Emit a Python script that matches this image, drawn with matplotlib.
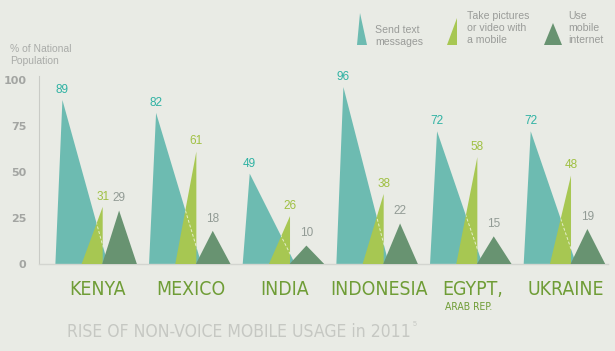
import matplotlib
matplotlib.use("Agg")
import matplotlib.pyplot as plt
import matplotlib.font_manager as fm
from matplotlib.patches import Polygon

countries = ["KENYA", "MEXICO", "INDIA", "INDONESIA", "EGYPT,", "UKRAINE"]
country_sub = ["", "", "", "", "ARAB REP.", ""]
send_text = [89, 82, 49, 96, 72, 72]
take_pictures = [31, 61, 26, 38, 58, 48]
mobile_internet = [29, 18, 10, 22, 15, 19]
yticks = [0, 25, 50, 75, 100]
series_names = ["Send text\nmessages", "Take pictures\nor video with\na mobile", "Use\nmobile\ninternet"]

BG = "#e9ebe5"
TEAL = "#6dbbb1"
LGREEN = "#a7c752"
DGREEN = "#689371"
TEAL_TXT = "#2fb2a3"
LG_TXT = "#9fc042"
DG_TXT = "#929b95"
GREY = "#a3a5a2"


def find_narrow():
    best = None
    for f in fm.fontManager.ttflist:
        st = str(f.stretch).lower()
        nm = f.name.lower()
        narrow = ("narrow" in nm or "condensed" in nm or "condensed" in st
                  or (st.isdigit() and int(st) < 500))
        if not narrow or f.style != "normal":
            continue
        w = f.weight if isinstance(f.weight, int) else {"normal": 400, "regular": 400}.get(str(f.weight), 700)
        score = abs(w - 400)
        if best is None or score < best[0]:
            best = (score, f.fname)
    if best:
        return fm.FontProperties(fname=best[1])
    return fm.FontProperties(family=["Liberation Sans", "DejaVu Sans"])


NARROW = find_narrow()
REG = fm.FontProperties(family=["Liberation Sans", "DejaVu Sans"])

W, H = 615, 351
fig = plt.figure(figsize=(W / 100, H / 100), dpi=100, facecolor=BG)
renderer = fig.canvas.get_renderer()


def fit_width(t, target):
    bb = t.get_window_extent(renderer)
    if bb.width > 0:
        t.set_fontsize(t.get_fontsize() * target / bb.width)


ax = fig.add_axes([39 / W, 87 / H, 569 / W, 188 / H], facecolor=BG)
ax.set_xlim(-0.855, 5.22)
ax.set_ylim(0, 102)

probe = fig.text(0, 0, "INDONESIA", fontproperties=NARROW.copy(), fontsize=13)
fit_width(probe, 97)
csize = min(probe.get_fontsize(), 14)
probe.remove()

for i in range(len(countries)):
    t, p, m = send_text[i], take_pictures[i], mobile_internet[i]
    teal = Polygon([(i - 0.68, 0), (i - 0.605, t), (i - 0.12, 0)], closed=True,
                   facecolor=TEAL, edgecolor="none", zorder=2)
    ax.add_patch(teal)
    green = Polygon([(i - 0.40, 0), (i - 0.175, p), (i - 0.175, 0)], closed=True,
                    facecolor=LGREEN, edgecolor="none", zorder=3)
    ax.add_patch(green)
    ln, = ax.plot([i - 0.605, i - 0.12], [t, 0], color="white", lw=0.7,
                  ls=(0, (3, 2)), alpha=0.7, zorder=4)
    ln.set_clip_path(green)
    dark = Polygon([(i - 0.18, 0), (i + 0.0, m), (i + 0.19, 0)], closed=True,
                   facecolor=DGREEN, edgecolor="none", zorder=5)
    ax.add_patch(dark)

    ax.annotate(str(t), (i - 0.605, t), xytext=(0, 3), textcoords="offset points",
                ha="center", va="bottom", color=TEAL_TXT, fontsize=8.5, fontproperties=REG)
    ax.annotate(str(p), (i - 0.175, p), xytext=(0, 3), textcoords="offset points",
                ha="center", va="bottom", color=LG_TXT, fontsize=8.5, fontproperties=REG)
    ax.annotate(str(m), (i + 0.0, m), xytext=(0, 4.5), textcoords="offset points",
                ha="center", va="bottom", color=DG_TXT, fontsize=8.5, fontproperties=REG)

    ax.annotate(countries[i], (i - 0.23, 0), xytext=(0, -18.5), textcoords="offset points",
                ha="center", va="center", color="#6f9d36", fontproperties=NARROW,
                fontsize=csize, annotation_clip=False)
    if country_sub[i]:
        ax.annotate(country_sub[i], (i - 0.27, 0), xytext=(0, -31), textcoords="offset points",
                    ha="center", va="center", color="#6f9d36", fontproperties=NARROW,
                    fontsize=7.5, annotation_clip=False)

ax.set_yticks(yticks)
ax.set_yticklabels([str(v) for v in yticks], color=GREY, fontsize=8, fontweight="bold")
ax.tick_params(axis="y", length=0, pad=9)
ax.set_xticks([])
for s in ["top", "right"]:
    ax.spines[s].set_visible(False)
ax.spines["left"].set_color("#c9cbc6")
ax.spines["bottom"].set_color("#d3d5d0")
ax.spines["left"].set_linewidth(0.8)
ax.spines["bottom"].set_linewidth(1.0)

ov = fig.add_axes([0, 0, 1, 1], facecolor="none")
ov.set_xlim(0, W)
ov.set_ylim(H, 0)
ov.axis("off")

ov.text(10, 55, "% of National\nPopulation", color="#aaaca9", fontsize=7.5,
        ha="left", va="center", linespacing=1.15, fontproperties=REG)

ov.add_patch(Polygon([(357, 45), (360, 13), (367, 45)], facecolor=TEAL, edgecolor="none"))
ov.add_patch(Polygon([(447, 45), (457, 18), (457, 45)], facecolor=LGREEN, edgecolor="none"))
ov.add_patch(Polygon([(544, 45), (553, 23), (562, 45)], facecolor=DGREEN, edgecolor="none"))
ov.text(375, 36, series_names[0], color="#9a9c99", fontsize=7.6, ha="left", va="center",
        linespacing=1.25, fontproperties=REG)
ov.text(467, 28, series_names[1], color="#9a9c99", fontsize=7.6, ha="left", va="center",
        linespacing=1.25, fontproperties=REG)
ov.text(568, 28, series_names[2], color="#9a9c99", fontsize=7.6, ha="left", va="center",
        linespacing=1.25, fontproperties=REG)

title = ov.text(67, 332, "RISE OF NON-VOICE MOBILE USAGE in 2011", color="#c6c8c3",
                fontproperties=NARROW, fontsize=15, ha="left", va="center")
fit_width(title, 345)
if title.get_fontsize() > 15:
    title.set_fontsize(15)
tb = title.get_window_extent(renderer)
ov.text(tb.x1 + 2, 325, "5", color="#c6c8c3", fontsize=5, ha="left", va="center",
        fontproperties=REG)

fig.savefig("out.png", dpi=100, facecolor=BG)
